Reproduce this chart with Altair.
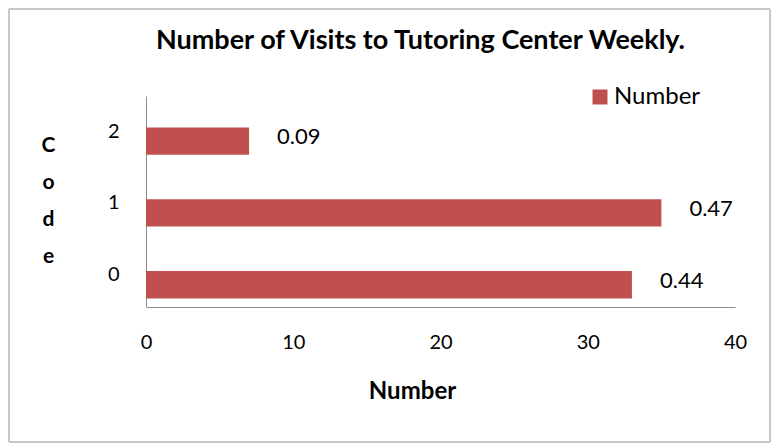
import altair as alt
import pandas as pd

codes = [0, 1, 2]
counts = [33, 35, 7]
proportions = ["0.44", "0.47", "0.09"]
series = ["Number", "Number", "Number"]

df = pd.DataFrame({"Code": codes, "Number": counts, "Label": proportions, "Series": series})

FONT = "Lato"
RED = "#C0504D"

base = alt.Chart(df).transform_calculate(
    lo="datum.Code - 0.19", hi="datum.Code + 0.19"
)

x_enc = alt.X(
    "Number:Q",
    scale=alt.Scale(domain=[0, 40], nice=False),
    axis=alt.Axis(
        values=[0, 10, 20, 30, 40], ticks=False, grid=False, domainColor="#8C8C8C",
        labelFontSize=20, labelPadding=25, labelColor="black", labelFont=FONT,
        labelFlush=False,
        title="Number", titleFontSize=24, titleFontWeight="bold", titleFont=FONT,
        titleColor="black", titleX=266, titleY=84, titleBaseline="middle",
        titleAnchor="start", titleAlign="center",
    ),
)

bars = base.mark_bar(color=RED).encode(
    x=x_enc,
    x2=alt.datum(0),
    y=alt.Y(
        "lo:Q",
        scale=alt.Scale(domain=[-0.31, 2.63], nice=False, zero=False),
        axis=alt.Axis(
            values=[0, 1, 2], format="d", ticks=False, grid=False, domainColor="#8C8C8C",
            labelFontSize=20, labelPadding=27, labelOffset=-10, labelColor="black",
            labelFont=FONT, labelFlush=False,
            title=["C", "o", "d", "e"], titleAngle=0, titleFontSize=21,
            titleFontWeight="bold", titleFont=FONT, titleColor="black",
            titleLineHeight=37, titleX=-98, titleY=38, titleBaseline="top",
            titleAlign="center", titleAnchor="start",
        ),
    ),
    y2="hi:Q",
    color=alt.Color(
        "Series:N",
        scale=alt.Scale(range=[RED]),
        legend=alt.Legend(
            title=None, orient="none", legendX=442, legendY=-11,
            symbolType="square", symbolSize=225, symbolStrokeWidth=0,
            labelFontSize=24, labelFont=FONT, labelColor="black", labelOffset=2,
        ),
    ),
)

labels = alt.Chart(df).mark_text(
    align="left", baseline="middle", dx=28, dy=-4, fontSize=22, font=FONT, color="black"
).encode(
    x=alt.X("Number:Q"),
    y=alt.Y("Code:Q"),
    text="Label:N",
)

frame = alt.Chart(df).mark_rect(fill=None, stroke="#BFBFBF", strokeWidth=1).encode(
    x=alt.value(-137), x2=alt.value(624), y=alt.value(-87), y2=alt.value(346)
)

chart = alt.layer(frame, bars, labels).properties(
    width=589,
    height=211,
    autosize=alt.AutoSizeParams(type="none"),
    padding={"left": 146, "top": 96, "right": 37, "bottom": 137},
    title=alt.TitleParams(
        "Number of Visits to Tutoring Center Weekly.", fontSize=27, fontWeight="bold",
        font=FONT, color="black", anchor="middle", frame="group", dx=-20, offset=-67,
        baseline="alphabetic",
    ),
).configure(background="white", view=alt.ViewConfig(stroke=None))

chart.save("out.html", embed_options={"renderer": "svg", "actions": False})
